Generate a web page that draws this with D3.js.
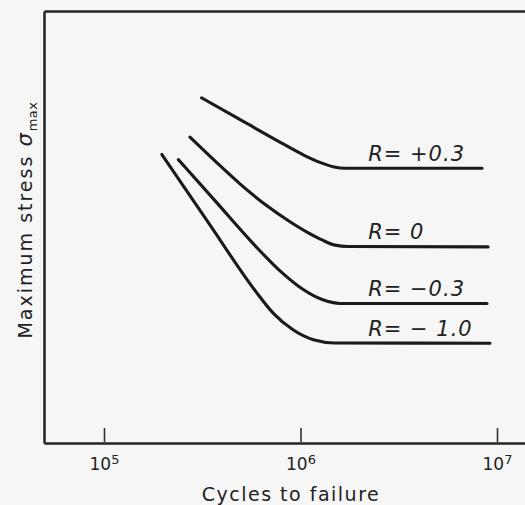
<!DOCTYPE html>
<html>
<head>
<meta charset="utf-8">
<script src="https://cdn.jsdelivr.net/npm/d3@7/dist/d3.min.js"></script>
<style>
  html, body { margin: 0; padding: 0; background: #f6f6f6; }
  svg { display: block; }
  text { font-family: "DejaVu Sans", sans-serif; fill: #222; }
</style>
</head>
<body>
<svg id="chart" width="525" height="505"></svg>
<script>
// ---- data ----
const seriesNames = ["R = +0.3", "R = 0", "R = \u22120.3", "R = \u22121.0"];
const seriesLabels = ["R= +0.3", "R= 0", "R= \u22120.3", "R= \u2212 1.0"];
const cyclesP03 = [3.14e5, 5.22e5, 8.34e5, 1.044e6, 1.266e6, 1.484e6, 1.685e6, 8.39e6];
const stressP03 = [79.9, 74.2, 69.0, 66.6, 64.9, 63.9, 63.6, 63.6];
const cyclesR0 = [2.74e5, 3.67e5, 4.92e5, 6.75e5, 8.84e5, 1.079e6, 1.287e6, 1.498e6, 1.745e6, 9.0e6];
const stressR0 = [70.8, 65.3, 60.0, 54.9, 51.2, 48.8, 47.0, 45.8, 45.5, 45.4];
const cyclesM03 = [2.39e5, 3.67e5, 5.87e5, 7.84e5, 1.019e6, 1.29e6, 1.589e6, 8.9e6];
const stressM03 = [65.6, 56.1, 45.7, 39.9, 35.7, 33.2, 32.3, 32.3];
const cyclesM10 = [1.97e5, 3.46e5, 5.87e5, 7.28e5, 9.16e5, 1.163e6, 1.498e6, 9.21e6];
const stressM10 = [66.8, 50.5, 35.3, 30.0, 26.2, 23.9, 23.15, 23.1];
const labelCycles = 2.21e6;
const tickValues = [1e5, 1e6, 1e7];
const tickExponents = ["5", "6", "7"];
const xTitle = "Cycles to failure";
const yTitle = "Maximum stress ";

const allCycles = [cyclesP03, cyclesR0, cyclesM03, cyclesM10];
const allStress = [stressP03, stressR0, stressM03, stressM10];

// ---- layout ----
const svg = d3.select("#chart");
const mLeft = 44, mRight = 525, mTop = 11, mBottom = 443;

const x = d3.scaleLog()
  .domain([Math.pow(10, 4.6947), Math.pow(10, 7.1425)])
  .range([mLeft, mRight]);
const y = d3.scaleLinear().domain([0, 100]).range([mBottom, mTop]);

// bottom axis
const xAxis = d3.axisBottom(x)
  .tickValues(tickValues)
  .tickSizeInner(-15)
  .tickSizeOuter(0)
  .tickPadding(15);
const gx = svg.append("g").attr("transform", `translate(0,${mBottom})`).call(xAxis);
gx.select(".domain").attr("stroke", "#222").attr("stroke-width", 2.5);
gx.selectAll(".tick line").attr("stroke", "#333").attr("stroke-width", 1.6).attr("y1", -1);
gx.selectAll(".tick text")
  .attr("font-size", 17)
  .attr("font-family", "DejaVu Sans, sans-serif")
  .attr("fill", "#222")
  .each(function(d, i) {
    const t = d3.select(this);
    t.text("10");
    t.append("tspan").attr("dy", "-0.5em").attr("font-size", 13).text(tickExponents[i]);
  });

// left axis (frame)
const yAxis = d3.axisLeft(y).tickValues([]).tickSizeOuter(0);
const gy = svg.append("g").attr("transform", `translate(${mLeft},0)`).call(yAxis);
gy.select(".domain").attr("stroke", "#222").attr("stroke-width", 2.5);

// top frame
const topAxis = d3.axisTop(x).tickValues([]).tickSizeOuter(0);
const gt = svg.append("g").attr("transform", `translate(0,${mTop})`).call(topAxis);
gt.select(".domain").attr("stroke", "#222").attr("stroke-width", 2.5);

// curves
const line = d3.line()
  .x(d => x(d[0]))
  .y(d => y(d[1]))
  .curve(d3.curveMonotoneX);

allCycles.forEach((cyc, i) => {
  const pts = cyc.map((c, j) => [c, allStress[i][j]]);
  svg.append("path")
    .datum(pts)
    .attr("fill", "none")
    .attr("stroke", "#1a1a1a")
    .attr("stroke-width", 3.1)
    .attr("stroke-linecap", "round")
    .attr("stroke-linejoin", "round")
    .attr("d", line);
  const flat = allStress[i][allStress[i].length - 1];
  svg.append("text")
    .attr("x", x(labelCycles))
    .attr("y", y(flat) - 7.5)
    .attr("font-size", 21)
    .attr("font-style", "italic")
    .attr("letter-spacing", 1)
    .text(seriesLabels[i]);
});

// axis titles
svg.append("text")
  .attr("x", 291)
  .attr("y", 501)
  .attr("text-anchor", "middle")
  .attr("font-size", 19)
  .attr("letter-spacing", 1.5)
  .text(xTitle);

const yt = svg.append("text")
  .attr("transform", "translate(32,220) rotate(-90)")
  .attr("text-anchor", "middle")
  .attr("font-size", 19)
  .attr("letter-spacing", 2)
  .text(yTitle);
yt.append("tspan").attr("font-style", "italic").attr("font-size", 21).text("\u03c3");
yt.append("tspan").attr("font-size", 13).attr("dy", "0.35em").attr("letter-spacing", 0.5).text("max");
</script>
</body>
</html>
